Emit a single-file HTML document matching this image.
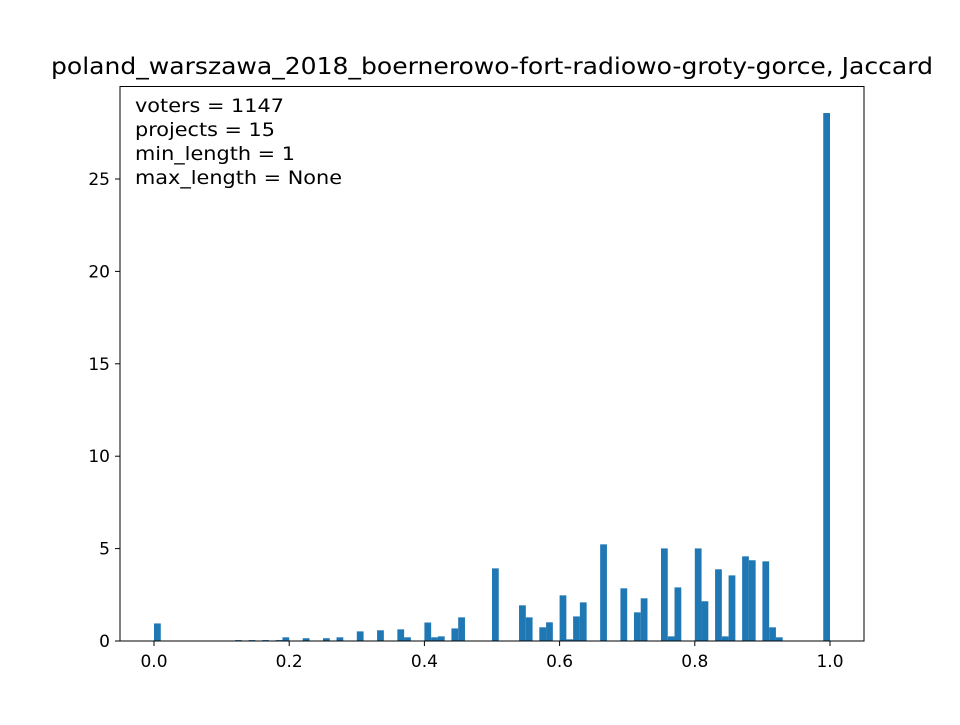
<!DOCTYPE html>
<html><head><meta charset="utf-8"><style>
html,body{margin:0;padding:0;background:#fff;}
svg text{font-family:"DejaVu Sans","Liberation Sans",sans-serif;fill:#000;}
</style></head><body>
<svg id="chart" width="960" height="720" xmlns="http://www.w3.org/2000/svg">
<rect width="960" height="720" fill="#fff"/>
<text x="492" y="74" text-anchor="middle" style="font-size:23px" textLength="882" lengthAdjust="spacingAndGlyphs">poland_warszawa_2018_boernerowo-fort-radiowo-groty-gorce, Jaccard</text>
<g id="bars"></g>
<g id="axes"></g>
<rect x="120" y="86.5" width="744" height="554.5" fill="none" stroke="#000" stroke-width="1"/>
<g>
<text x="135" y="112" style="font-size:19px" textLength="149" lengthAdjust="spacingAndGlyphs">voters = 1147</text>
<text x="135" y="136" style="font-size:19px" textLength="140" lengthAdjust="spacingAndGlyphs">projects = 15</text>
<text x="135" y="160" style="font-size:19px" textLength="160" lengthAdjust="spacingAndGlyphs">min_length = 1</text>
<text x="135" y="184" style="font-size:19px" textLength="207" lengthAdjust="spacingAndGlyphs">max_length = None</text>
</g>
</svg>
<script>
const binIndex = [0,12,14,16,18,19,22,25,27,30,33,36,37,40,41,42,44,45,50,54,55,57,58,60,61,62,63,66,69,71,72,75,76,77,80,81,83,84,85,87,88,90,91,92,99];
const binValues = [0.95,0.05,0.05,0.05,0.05,0.2,0.15,0.15,0.2,0.52,0.58,0.63,0.2,1.0,0.2,0.25,0.68,1.28,3.93,1.93,1.28,0.74,1.01,2.47,0.09,1.33,2.09,5.23,2.85,1.55,2.31,5.01,0.25,2.9,5.01,2.15,3.88,0.25,3.55,4.58,4.37,4.31,0.74,0.2,28.57];
const binWidth = 0.01;
const xTicks = [0,0.2,0.4,0.6,0.8,1.0];
const xTickLabels = ["0.0","0.2","0.4","0.6","0.8","1.0"];
const yTicks = [0,5,10,15,20,25];
const yTickLabels = ["0","5","10","15","20","25"];
const xS = v => 154 + v*676;
const yS = v => 641 - v*18.48;
const NS = "http://www.w3.org/2000/svg";
const bars = document.getElementById('bars');
binIndex.forEach((b,i)=>{
  const r = document.createElementNS(NS,'rect');
  const x0 = xS(b*binWidth), x1 = xS((b+1)*binWidth);
  r.setAttribute('x', x0); r.setAttribute('width', x1-x0);
  r.setAttribute('y', yS(binValues[i])); r.setAttribute('height', yS(0)-yS(binValues[i]));
  r.setAttribute('fill','#1f77b4');
  
  
  bars.appendChild(r);
});
const axes = document.getElementById('axes');
xTicks.forEach((t,i)=>{
  const l = document.createElementNS(NS,'line');
  l.setAttribute('x1',xS(t)); l.setAttribute('x2',xS(t)); l.setAttribute('y1',641); l.setAttribute('y2',646);
  l.setAttribute('stroke','#000');
  
  
  axes.appendChild(l);
  const tx = document.createElementNS(NS,'text');
  tx.setAttribute('x',xS(t)); tx.setAttribute('y',667); tx.setAttribute('text-anchor','middle');
  tx.setAttribute('style','font-size:17px');
  tx.textContent = xTickLabels[i];
  
  
  axes.appendChild(tx);
});
yTicks.forEach((t,i)=>{
  const l = document.createElementNS(NS,'line');
  l.setAttribute('x1',115); l.setAttribute('x2',120); l.setAttribute('y1',yS(t)); l.setAttribute('y2',yS(t));
  l.setAttribute('stroke','#000');
  
  
  axes.appendChild(l);
  const tx = document.createElementNS(NS,'text');
  tx.setAttribute('x',110); tx.setAttribute('y',yS(t)+6); tx.setAttribute('text-anchor','end');
  tx.setAttribute('style','font-size:17px');
  tx.textContent = yTickLabels[i];
  
  
  axes.appendChild(tx);
});
</script>
</body></html>
